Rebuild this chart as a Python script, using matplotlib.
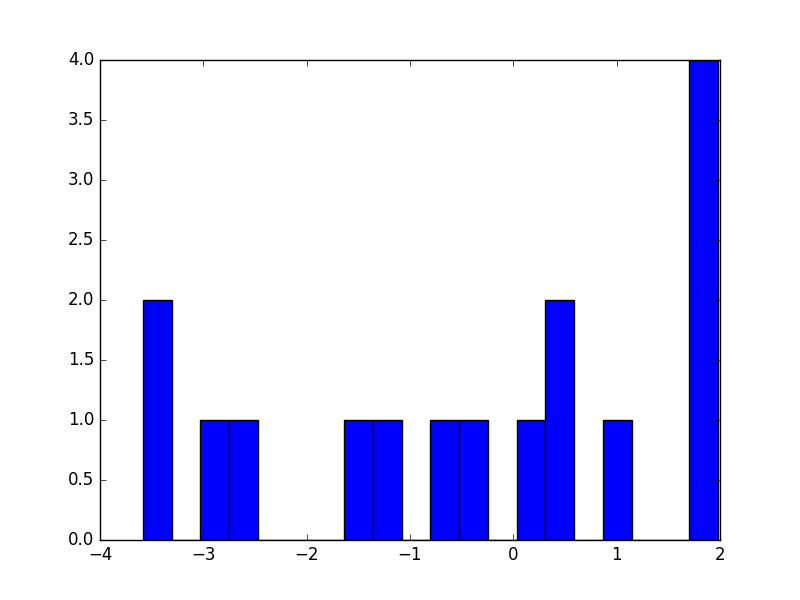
import numpy as np
import matplotlib
matplotlib.use("Agg")
import matplotlib.pyplot as plt

plt.style.use("classic")

data_min = -3.584
data_max = 1.978
n_bins = 20
counts = [2, 0, 1, 1, 0, 0, 0, 1, 1, 0, 1, 1, 0, 1, 2, 0, 1, 0, 0, 4]

edges = np.linspace(data_min, data_max, n_bins + 1)
centers = (edges[:-1] + edges[1:]) / 2

fig = plt.figure(figsize=(8, 6), dpi=100)
ax = fig.add_axes([0.125, 0.1, 0.775, 0.8])
ax.hist(centers, bins=edges, weights=counts, color="blue", edgecolor="black", linewidth=1.0)
ax.set_xlim(-4, 2)
ax.set_ylim(0, 4)
ax.set_yticks(np.arange(0, 4.01, 0.5))
ax.yaxis.set_major_formatter(matplotlib.ticker.FormatStrFormatter("%.1f"))
fig.savefig("out.png", dpi=100, facecolor="white")
